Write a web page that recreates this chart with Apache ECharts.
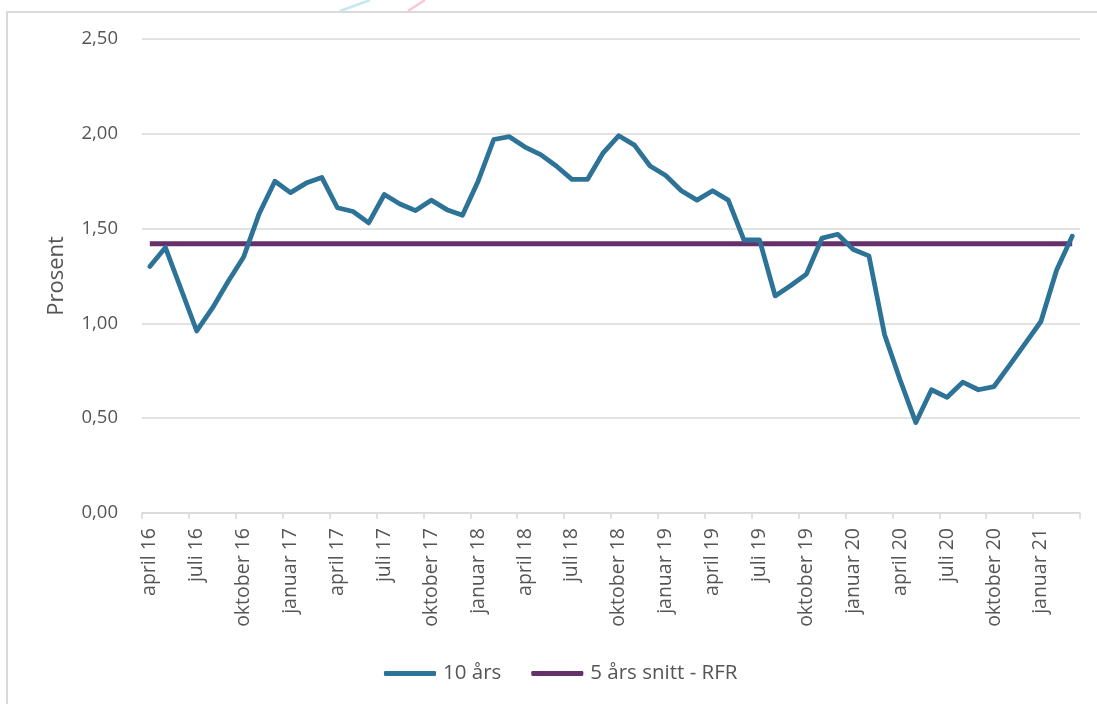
<!DOCTYPE html>
<html>
<head>
<meta charset="utf-8">
<script src="https://cdn.jsdelivr.net/npm/echarts@6/dist/echarts.min.js"></script>
<style>
html,body{margin:0;padding:0;background:#fff;}
#c{width:1097px;height:704px;}
</style>
</head>
<body>
<div id="c"></div>
<script>
const categories = [
  'april 16','mai 16','juni 16','juli 16','august 16','september 16','oktober 16','november 16','desember 16',
  'januar 17','februar 17','mars 17','april 17','mai 17','juni 17','juli 17','august 17','september 17','oktober 17','november 17','desember 17',
  'januar 18','februar 18','mars 18','april 18','mai 18','juni 18','juli 18','august 18','september 18','oktober 18','november 18','desember 18',
  'januar 19','februar 19','mars 19','april 19','mai 19','juni 19','juli 19','august 19','september 19','oktober 19','november 19','desember 19',
  'januar 20','februar 20','mars 20','april 20','mai 20','juni 20','juli 20','august 20','september 20','oktober 20','november 20','desember 20',
  'januar 21','februar 21','mars 21'
];
const tiAars = [
  1.30,1.40,1.18,0.96,1.08,1.22,1.35,1.58,1.75,
  1.69,1.74,1.77,1.61,1.59,1.53,1.68,1.63,1.595,1.65,1.60,1.57,
  1.75,1.97,1.985,1.93,1.89,1.83,1.76,1.76,1.90,1.99,1.94,1.83,
  1.78,1.70,1.65,1.70,1.65,1.44,1.44,1.145,1.20,1.26,1.45,1.47,
  1.39,1.356,0.94,0.70,0.477,0.65,0.61,0.69,0.65,0.667,0.78,0.895,
  1.01,1.28,1.46
];
const femAarsSnittRFR = [
  1.42,1.42,1.42,1.42,1.42,1.42,1.42,1.42,1.42,
  1.42,1.42,1.42,1.42,1.42,1.42,1.42,1.42,1.42,1.42,1.42,1.42,
  1.42,1.42,1.42,1.42,1.42,1.42,1.42,1.42,1.42,1.42,1.42,1.42,
  1.42,1.42,1.42,1.42,1.42,1.42,1.42,1.42,1.42,1.42,1.42,1.42,
  1.42,1.42,1.42,1.42,1.42,1.42,1.42,1.42,1.42,1.42,1.42,1.42,
  1.42,1.42,1.42
];
const yTicks = ['0,00','0,50','1,00','1,50','2,00','2,50'];
const seriesNames = ['10 års','5 års snitt - RFR'];

const FONT = '"Open Sans", sans-serif';
const TXT = '#555555';
const chart = echarts.init(document.getElementById('c'), null, {renderer:'canvas'});
chart.setOption({
  animation:false,
  backgroundColor:'#ffffff',
  graphic:[
    {type:'polyline', shape:{points:[[7,720],[7,12],[1110,12]]}, style:{stroke:'#d9d9d9', lineWidth:2, fill:null}},
    {type:'line', shape:{x1:340,y1:11,x2:370,y2:0}, style:{stroke:'#c6e6f2', lineWidth:2.5}},
    {type:'line', shape:{x1:408,y1:11,x2:425,y2:0}, style:{stroke:'#f8c6d6', lineWidth:2.5}}
  ],
  grid:{left:142, right:17, top:39, bottom:191, containLabel:false},
  legend:{
    data:seriesNames.map(n=>({name:n, icon:'roundRect'})),
    left:379, top:658,
    itemWidth:52, itemHeight:5, itemGap:30,
    textStyle:{fontFamily:FONT, fontSize:20.5, color:TXT, padding:[0,0,0,2]}
  },
  xAxis:{
    type:'category', data:categories, boundaryGap:true,
    axisLine:{show:true, lineStyle:{color:'#d9d9d9', width:1.5}},
    axisTick:{show:true, interval:2, length:6, lineStyle:{color:'#d9d9d9', width:1.5}},
    axisLabel:{interval:2, rotate:90, margin:15, fontFamily:FONT, fontSize:19.5, color:TXT},
    splitLine:{show:false}
  },
  yAxis:{
    type:'value', min:0, max:2.5, interval:0.5,
    name:'Prosent', nameLocation:'middle', nameGap:74, nameRotate:90,
    nameTextStyle:{fontFamily:FONT, fontSize:22, color:TXT},
    axisLine:{show:false}, axisTick:{show:false},
    axisLabel:{margin:24, fontFamily:FONT, fontSize:18.5, color:TXT,
      formatter:(v)=>yTicks[Math.round(v/0.5)]},
    splitLine:{lineStyle:{color:'#d9d9d9', width:1.5}}
  },
  series:[
    {name:seriesNames[0], type:'line', data:tiAars, showSymbol:false, symbol:'none',
     lineStyle:{color:'#2c7397', width:4.8, join:'round', cap:'round'}, itemStyle:{color:'#2c7397'}, z:3},
    {name:seriesNames[1], type:'line', data:femAarsSnittRFR, showSymbol:false, symbol:'none',
     lineStyle:{color:'#66306a', width:4.8}, itemStyle:{color:'#66306a'}, z:2}
  ]
});
</script>
</body>
</html>
